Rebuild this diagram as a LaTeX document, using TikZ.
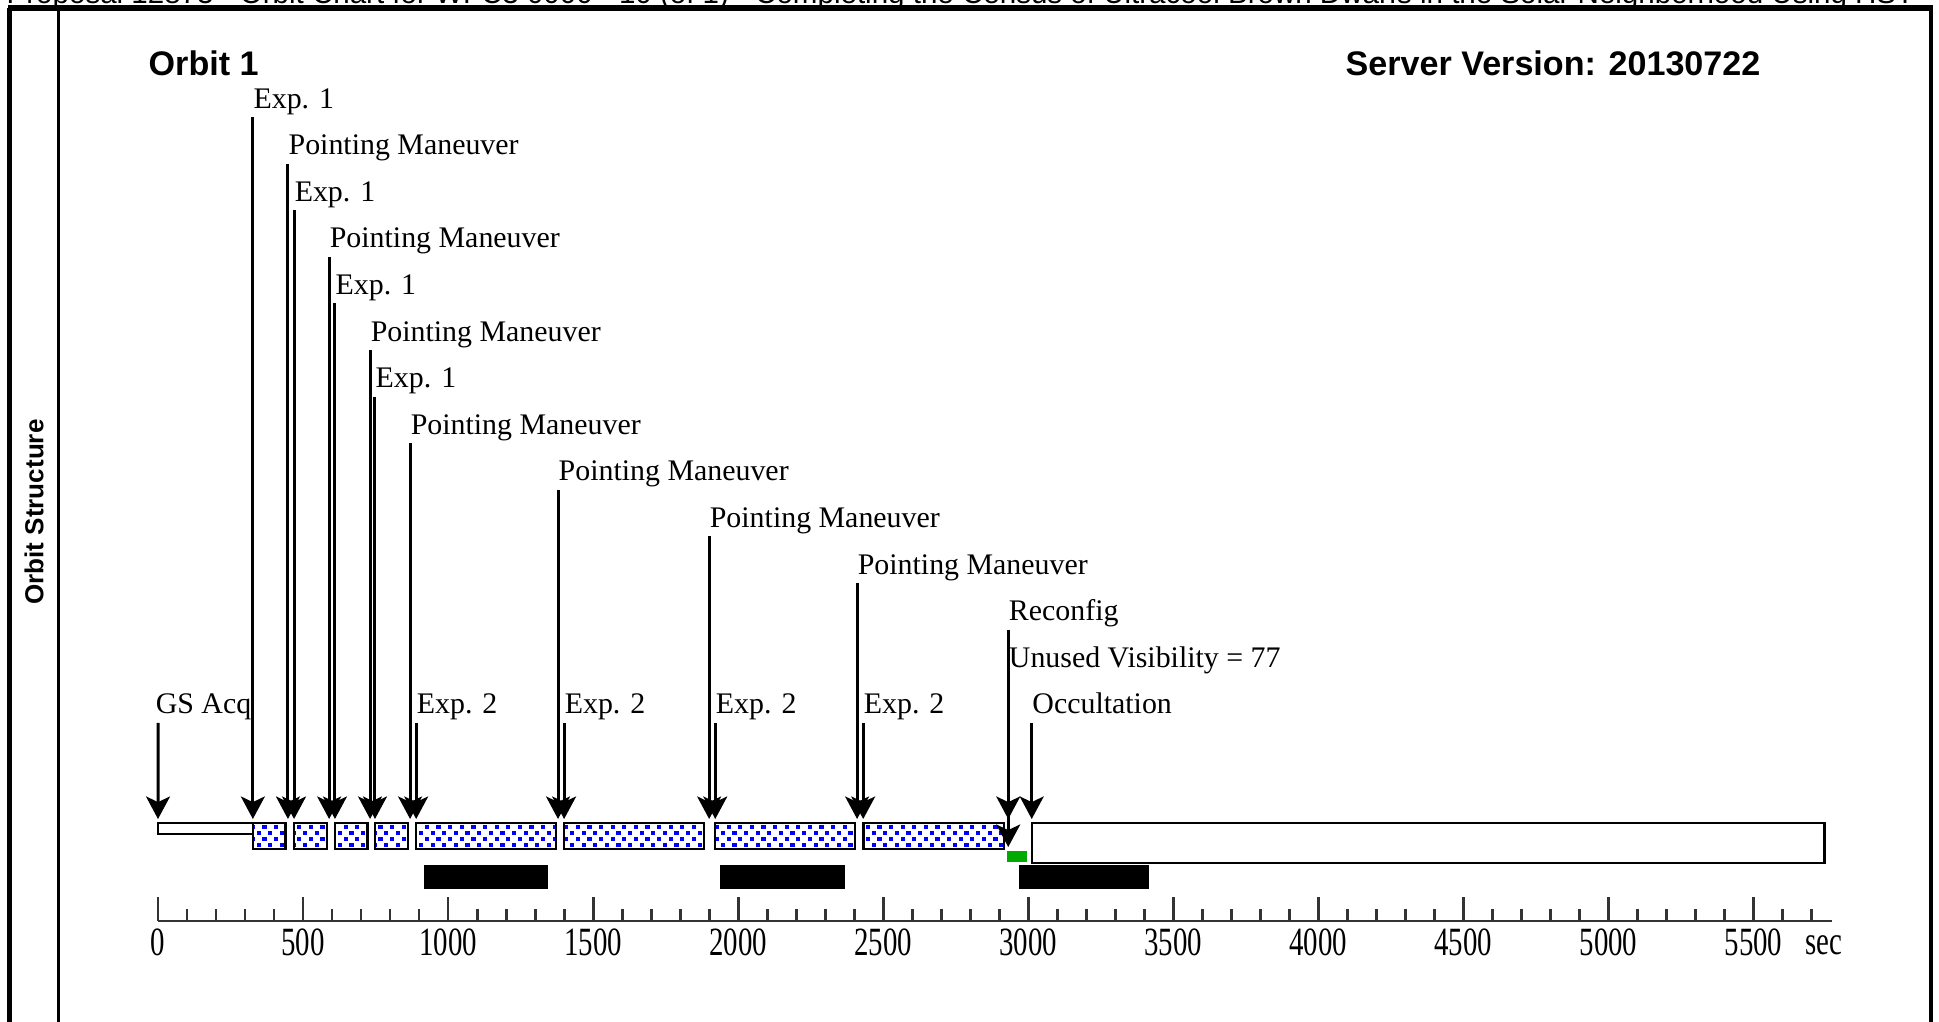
\documentclass[tikz,border=0pt]{standalone}
\usepackage{fontspec}
\setmainfont{Liberation Serif}
\newfontfamily\headfont{Liberation Sans}
\newfontfamily\tickfont[FakeStretch=0.72]{Liberation Serif}
\usepackage{tikz}
\usetikzlibrary{arrows.meta}
\definecolor{dotBlue}{RGB}{0, 0, 255}
\definecolor{reconfGreen}{RGB}{0, 170, 0}
\definecolor{axisGray}{RGB}{51, 51, 51}

\begin{document}
\begin{tikzpicture}[
    x=0.01cm, y=-0.01cm,
    evarrow/.style={line width=0.85pt, -{Stealth[length=6.4pt, width=6.8pt, inset=1.6pt]}},
    evlabel/.style={anchor=base west, inner sep=0pt, font=\fontsize{8.5}{10}\selectfont},
    headlabel/.style={anchor=base west, inner sep=0pt, font=\headfont\bfseries\fontsize{9.7}{11}\selectfont},
    segbar/.style={draw, line width=0.7pt, fill=white},
    axisline/.style={draw=axisGray, line width=0.8pt},
    ticklabel/.style={inner sep=0pt, font=\tickfont\fontsize{11.4}{12}\selectfont},
  ]
    \useasboundingbox (0,0) rectangle (1939,1021);

    % Frame and headings
    \node[anchor=base west, inner sep=0pt, font=\headfont\fontsize{8.4}{10}\selectfont] (title) at (6,4)
      {Proposal 12873 - Orbit Chart for WFC3 0000 - 10 (of 1) - Completing the Census of Ultracool Brown Dwarfs in the Solar Neighborhood Using HST};
    \draw[line width=1.2pt] (9.5,1030) -- (9.5,8);
    \draw[line width=1.1pt] (58.5,1030) -- (58.5,8);
    \draw[line width=1.2pt] (1931,1030) -- (1931,8);
    \draw[line width=1.7pt] (8,8) -- (1933,8);
    \node[rotate=90, inner sep=0pt, font=\headfont\bfseries\fontsize{7.4}{9}\selectfont] (side) at (34,512) {Orbit Structure};
    \node[headlabel] (orbit) at (148,75) {Orbit 1};
    \node[headlabel] (server) at (1345,75) {Server Version: 20130722};

    \begin{scope}[shift={(158,0)}, x=0.0029cm]
      % time axis (seconds)
      \draw[axisline] (0,921) -- (5770,921);
      \foreach \s in {100,200,...,5700} { \draw[axisline] (\s,921) -- (\s,909); }
      \foreach \s in {0,500,...,5500} {
        \draw[axisline] (\s,921) -- (\s,897);
        \node[ticklabel] (tk\s) at (\s,942) {\s};
      }
      \node[ticklabel, anchor=west] (unit) at (5676,945) {sec};

      % GS acquisition
      \draw[segbar] (0,823) rectangle (327,834);

      % Exposures
      \begin{scope}
        \clip (327,823) rectangle (440,849) (469,823) rectangle (582,849)
              (610,823) rectangle (722,849) (748,823) rectangle (862,849)
              (890,823) rectangle (1372,849) (1400,823) rectangle (1883,849)
              (1921,823) rectangle (2403,849) (2432,823) rectangle (2917,849);
        \foreach \r in {0,...,4} {
          \foreach \c in {0,...,75} {
            \fill[dotBlue] ({\c*40+mod(\r,2)*20}, {825+\r*6}) rectangle ++(14.5,4.2);
          }
        }
      \end{scope}
      \foreach \a/\b in {327/440, 469/582, 610/722, 748/862, 890/1372, 1400/1883, 1921/2403, 2432/2917} {
        \draw[line width=0.7pt] (\a,823) rectangle (\b,849);
      }

      % Occultation, reconfig, SAA
      \draw[segbar] (3012,823) rectangle (5745,863);
      \fill[reconfGreen] (2928,851) rectangle (2997,862);
      \foreach \a/\b in {917/1345, 1938/2369, 2969/3417} { \fill (\a,865) rectangle (\b,889); }

      % Event labels
      \foreach \t/\k/\txt in {327/0/Exp. 1, 448/1/Pointing Maneuver, 469/2/Exp. 1, 590/3/Pointing Maneuver,
          610/4/Exp. 1, 731/5/Pointing Maneuver, 748/6/Exp. 1, 869/7/Pointing Maneuver,
          1379/8/Pointing Maneuver, 1900/9/Pointing Maneuver, 2410/10/Pointing Maneuver, 2931/11/Reconfig,
          890/13/Exp. 2, 1400/13/Exp. 2, 1921/13/Exp. 2, 2431/13/Exp. 2, 3012/13/Occultation} {
        \node[evlabel] (ev\t) at (\t,{108+46.6*\k}) {\txt};
        \draw[evarrow] ([yshift=-0.09cm]ev\t.base west) -- (\t,819);
      }
      \node[evlabel] (gsacq) at (-10,{108+46.6*13}) {GS Acq};
      \draw[evarrow] ([xshift=0.03cm, yshift=-0.09cm]gsacq.base west) -- (0,819);
      \node[evlabel] (unused) at (2931,{108+46.6*12}) {Unused Visibility = 77};
      \draw[evarrow] ([yshift=-0.09cm]unused.base west) -- (2931,847);
    \end{scope}
\end{tikzpicture}
\end{document}
